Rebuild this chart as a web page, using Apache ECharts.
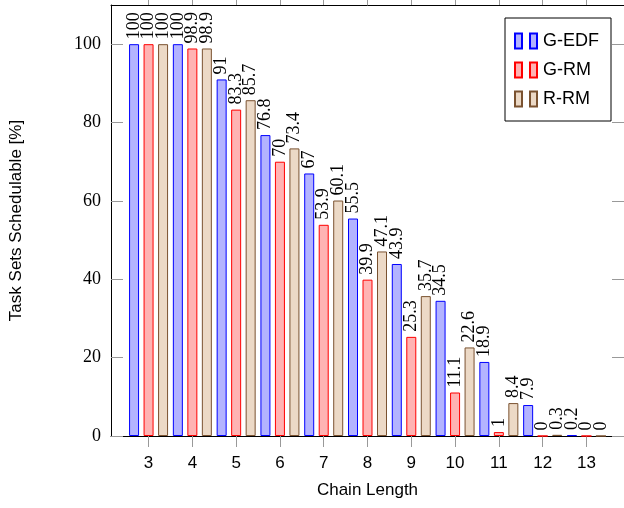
<!DOCTYPE html>
<html>
<head>
<meta charset="utf-8">
<script src="https://cdn.jsdelivr.net/npm/echarts@6/dist/echarts.min.js"></script>
<style>html,body{margin:0;padding:0;background:#fff}#c{width:624px;height:508px}</style>
</head>
<body>
<div id="c"></div>
<script>
const categories = [3, 4, 5, 6, 7, 8, 9, 10, 11, 12, 13];
const gEDF = [100, 100, 91, 76.8, 67, 55.5, 43.9, 34.5, 18.9, 7.9, 0.2];
const gRM  = [100, 98.9, 83.3, 70, 53.9, 39.9, 25.3, 11.1, 1, 0, 0];
const rRM  = [100, 98.9, 85.7, 73.4, 60.1, 47.1, 35.7, 22.6, 8.4, 0.3, 0];
const yTicks = [0, 20, 40, 60, 80, 100];
const seriesNames = ['G-EDF', 'G-RM', 'R-RM'];

const chart = echarts.init(document.getElementById('c'), null, {renderer: 'canvas'});
const serif = 'Liberation Serif';
const sans = 'Liberation Sans';
const tickColor = '#999';

function mk(name, vals, fill, stroke) {
  return {
    name: name,
    type: 'bar',
    xAxisIndex: 0,
    yAxisIndex: 0,
    barWidth: 10,
    barGap: '45%',
    data: vals.map((v, i) => [categories[i], v]),
    itemStyle: {color: fill, borderColor: stroke, borderWidth: 1},
    label: {
      show: true,
      position: 'top',
      rotate: 90,
      align: 'left',
      verticalAlign: 'middle',
      distance: 5,
      fontFamily: serif,
      fontSize: 18,
      color: '#000',
      formatter: p => String(p.value[1])
    }
  };
}

const option = {
  animation: false,
  backgroundColor: '#fff',
  grid: {left: 110, right: -5, top: 5, bottom: 72, containLabel: false},
  legend: {
    orient: 'vertical',
    right: 13,
    top: 18,
    padding: [14, 12, 13, 9],
    itemGap: 11,
    itemWidth: 22,
    itemHeight: 15,
    borderColor: '#000',
    borderWidth: 1,
    icon: 'path://M0,0H7V15H0Z M15,0H22V15H15Z',
    textStyle: {fontFamily: sans, fontSize: 18, color: '#000', padding: [0, 0, 0, 1]},
    data: seriesNames
  },
  xAxis: [{
    type: 'value',
    min: 2.142,
    max: 13.858,
    position: 'bottom',
    name: 'Chain Length',
    nameLocation: 'middle',
    nameGap: 46,
    nameTextStyle: {fontFamily: sans, fontSize: 17, color: '#000'},
    axisLine: {show: true, lineStyle: {color: '#000', width: 1}},
    axisTick: {show: true, inside: false, length: 11, customValues: categories, lineStyle: {color: tickColor}},
    axisLabel: {show: true, customValues: categories, margin: 19, fontFamily: sans, fontSize: 17, color: '#000'},
    splitLine: {show: false}
  }, {
    type: 'value',
    min: 2.142,
    max: 13.858,
    position: 'top',
    axisLine: {show: true, onZero: false, lineStyle: {color: '#000', width: 1}},
    axisTick: {show: true, inside: false, length: 8, customValues: categories, lineStyle: {color: tickColor}},
    axisLabel: {show: false},
    splitLine: {show: false}
  }],
  yAxis: [{
    type: 'value',
    min: 0,
    max: 110,
    position: 'left',
    name: 'Task Sets Schedulable [%]',
    nameLocation: 'middle',
    nameGap: 86,
    nameRotate: 90,
    nameTextStyle: {fontFamily: sans, fontSize: 17, color: '#000'},
    axisLine: {show: true, lineStyle: {color: '#000', width: 1}},
    axisTick: {show: true, inside: true, length: 12, customValues: yTicks, lineStyle: {color: tickColor}},
    axisLabel: {show: true, customValues: yTicks, margin: 10, fontFamily: serif, fontSize: 18, color: '#000'},
    splitLine: {show: false}
  }, {
    type: 'value',
    min: 0,
    max: 110,
    position: 'right',
    axisLine: {show: true, onZero: false, lineStyle: {color: '#000', width: 1}},
    axisTick: {show: true, inside: true, length: 12, customValues: yTicks, lineStyle: {color: tickColor}},
    axisLabel: {show: false},
    splitLine: {show: false}
  }],
  series: [
    mk(seriesNames[0], gEDF, '#b3b3ff', '#0000ff'),
    mk(seriesNames[1], gRM, '#ffb3b3', '#ff0000'),
    mk(seriesNames[2], rRM, '#ecd9c6', '#7a5230')
  ]
};
chart.setOption(option);
</script>
</body>
</html>
